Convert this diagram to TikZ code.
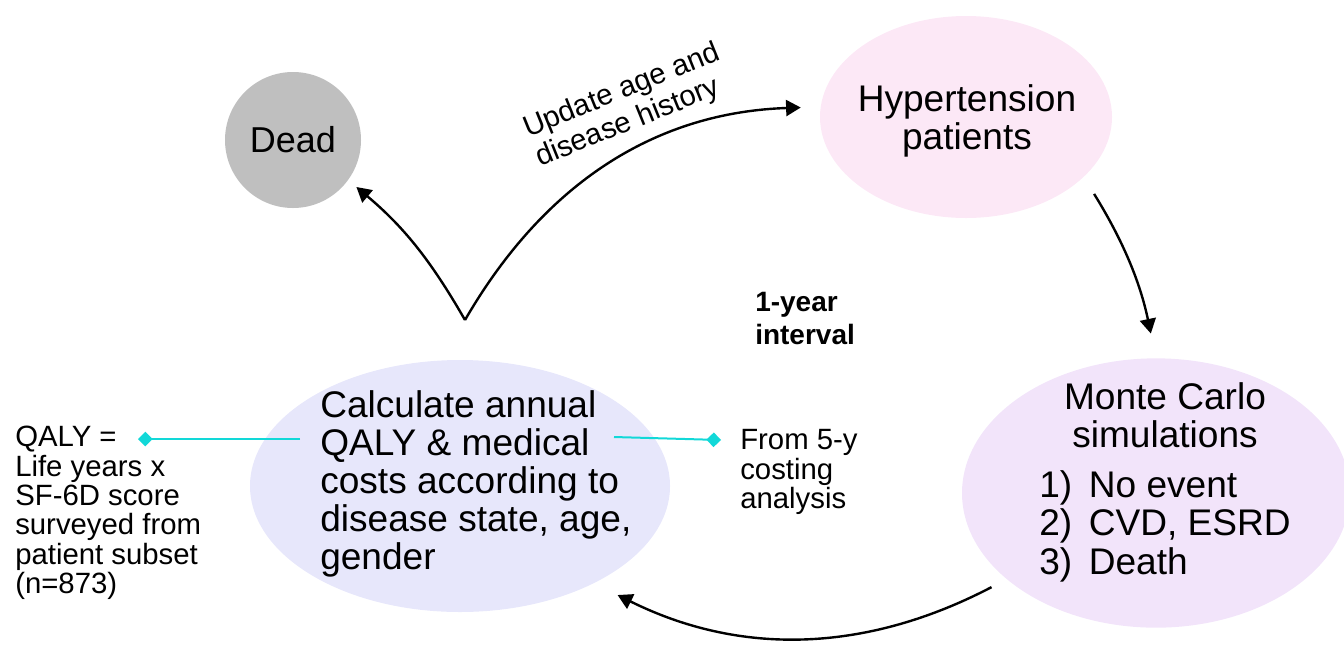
\documentclass[tikz,border=0pt]{standalone}
\usepackage{fontspec}
\setmainfont{Liberation Sans}
\usetikzlibrary{shapes.geometric,arrows.meta,calc}

\definecolor{deadgray}{HTML}{BFBFBF}
\definecolor{hyppink}{HTML}{FCE8F6}
\definecolor{mclilac}{HTML}{F2E4FA}
\definecolor{calcblue}{HTML}{E7E7FB}
\definecolor{notecyan}{HTML}{12D8D8}

\begin{document}
\begin{tikzpicture}[x=0.75pt, y=-0.75pt,
  blob/.style = {ellipse, inner sep=0pt, outer sep=0pt},
  big/.style = {align=left, inner sep=0pt, font=\fontsize{27.8}{28.5}\selectfont},
  small/.style = {align=left, inner sep=0pt, font=\fontsize{22}{22}\selectfont},
  flow/.style = {-{Triangle[length=11pt, width=12pt]}, line width=1.8pt},
  note/.style = {-{Diamond[length=11pt, width=11pt]}, line width=1.5pt, notecyan}]
  \useasboundingbox (0,0) rectangle (1344,644);

  % states
  \node[circle, fill=deadgray, minimum size=102pt, inner sep=0pt,
        font=\fontsize{27}{28.5}\selectfont] (dead) at (293,140) {Dead};
  \node[blob, fill=hyppink, minimum width=219pt, minimum height=151.5pt] (hyp) at (966,117) {};
  \node[blob, fill=mclilac, minimum width=291pt, minimum height=202pt] (mc) at (1156,493) {};
  \node[blob, fill=calcblue, minimum width=315pt, minimum height=189pt] (calc) at (460,486) {};

  \node[big, align=center] (hyptext) at (967,121) {Hypertension\\patients};
  \node[big, align=center] (mctext) at (1165,484) {Monte Carlo\\simulations\\[9pt]
    \begin{tabular}[t]{@{}l@{}}1)\hspace{0.45em}No event\\2)\hspace{0.45em}CVD, ESRD\\3)\hspace{0.45em}Death\end{tabular}};
  \node[big, anchor=west] (calctext) at (320,484)
    {Calculate annual\\QALY \& medical\\costs according to\\disease state, age,\\gender};

  % side notes
  \node[small, anchor=west] (qaly) at (15,513)
    {QALY =\\Life years x\\SF-6D score\\surveyed from\\patient subset\\(n=873)};
  \node[small, anchor=west] (costing) at (740,472) {From 5-y\\costing\\analysis};
  \node[small, anchor=west, font=\bfseries\fontsize{21}{24.75}\selectfont] (interval) at (755,318) {1-year\\interval};
  \node[small, rotate=22, font=\fontsize{22}{24}\selectfont] (update) at (628,106) {Update age and\\disease history};

  \coordinate (fork) at ($(calc.north)+(5,-40)$);
  \coordinate (qalytip) at (138,439);
  \coordinate (costtip) at (721,440);

  % yearly cycle
  \draw[flow, shorten >=8pt] (fork) to[bend right=10] (dead.-36);
  \draw[flow, shorten >=15pt] (fork) to[bend left=29] (hyp.176);
  \draw[flow, shorten <=15pt, shorten >=19pt] (hyp.-27) to[bend left=10] (mc.90);
  \draw[flow, shorten <=13pt, shorten >=20pt] (mc.210) to[bend left=27] (calc.-36);

  \draw[note] ($(calc.west)+(50,-47)$) -- (qalytip);
  \draw[note] ($(calc.east)+(-56,-49)$) -- (costtip);
\end{tikzpicture}
\end{document}
